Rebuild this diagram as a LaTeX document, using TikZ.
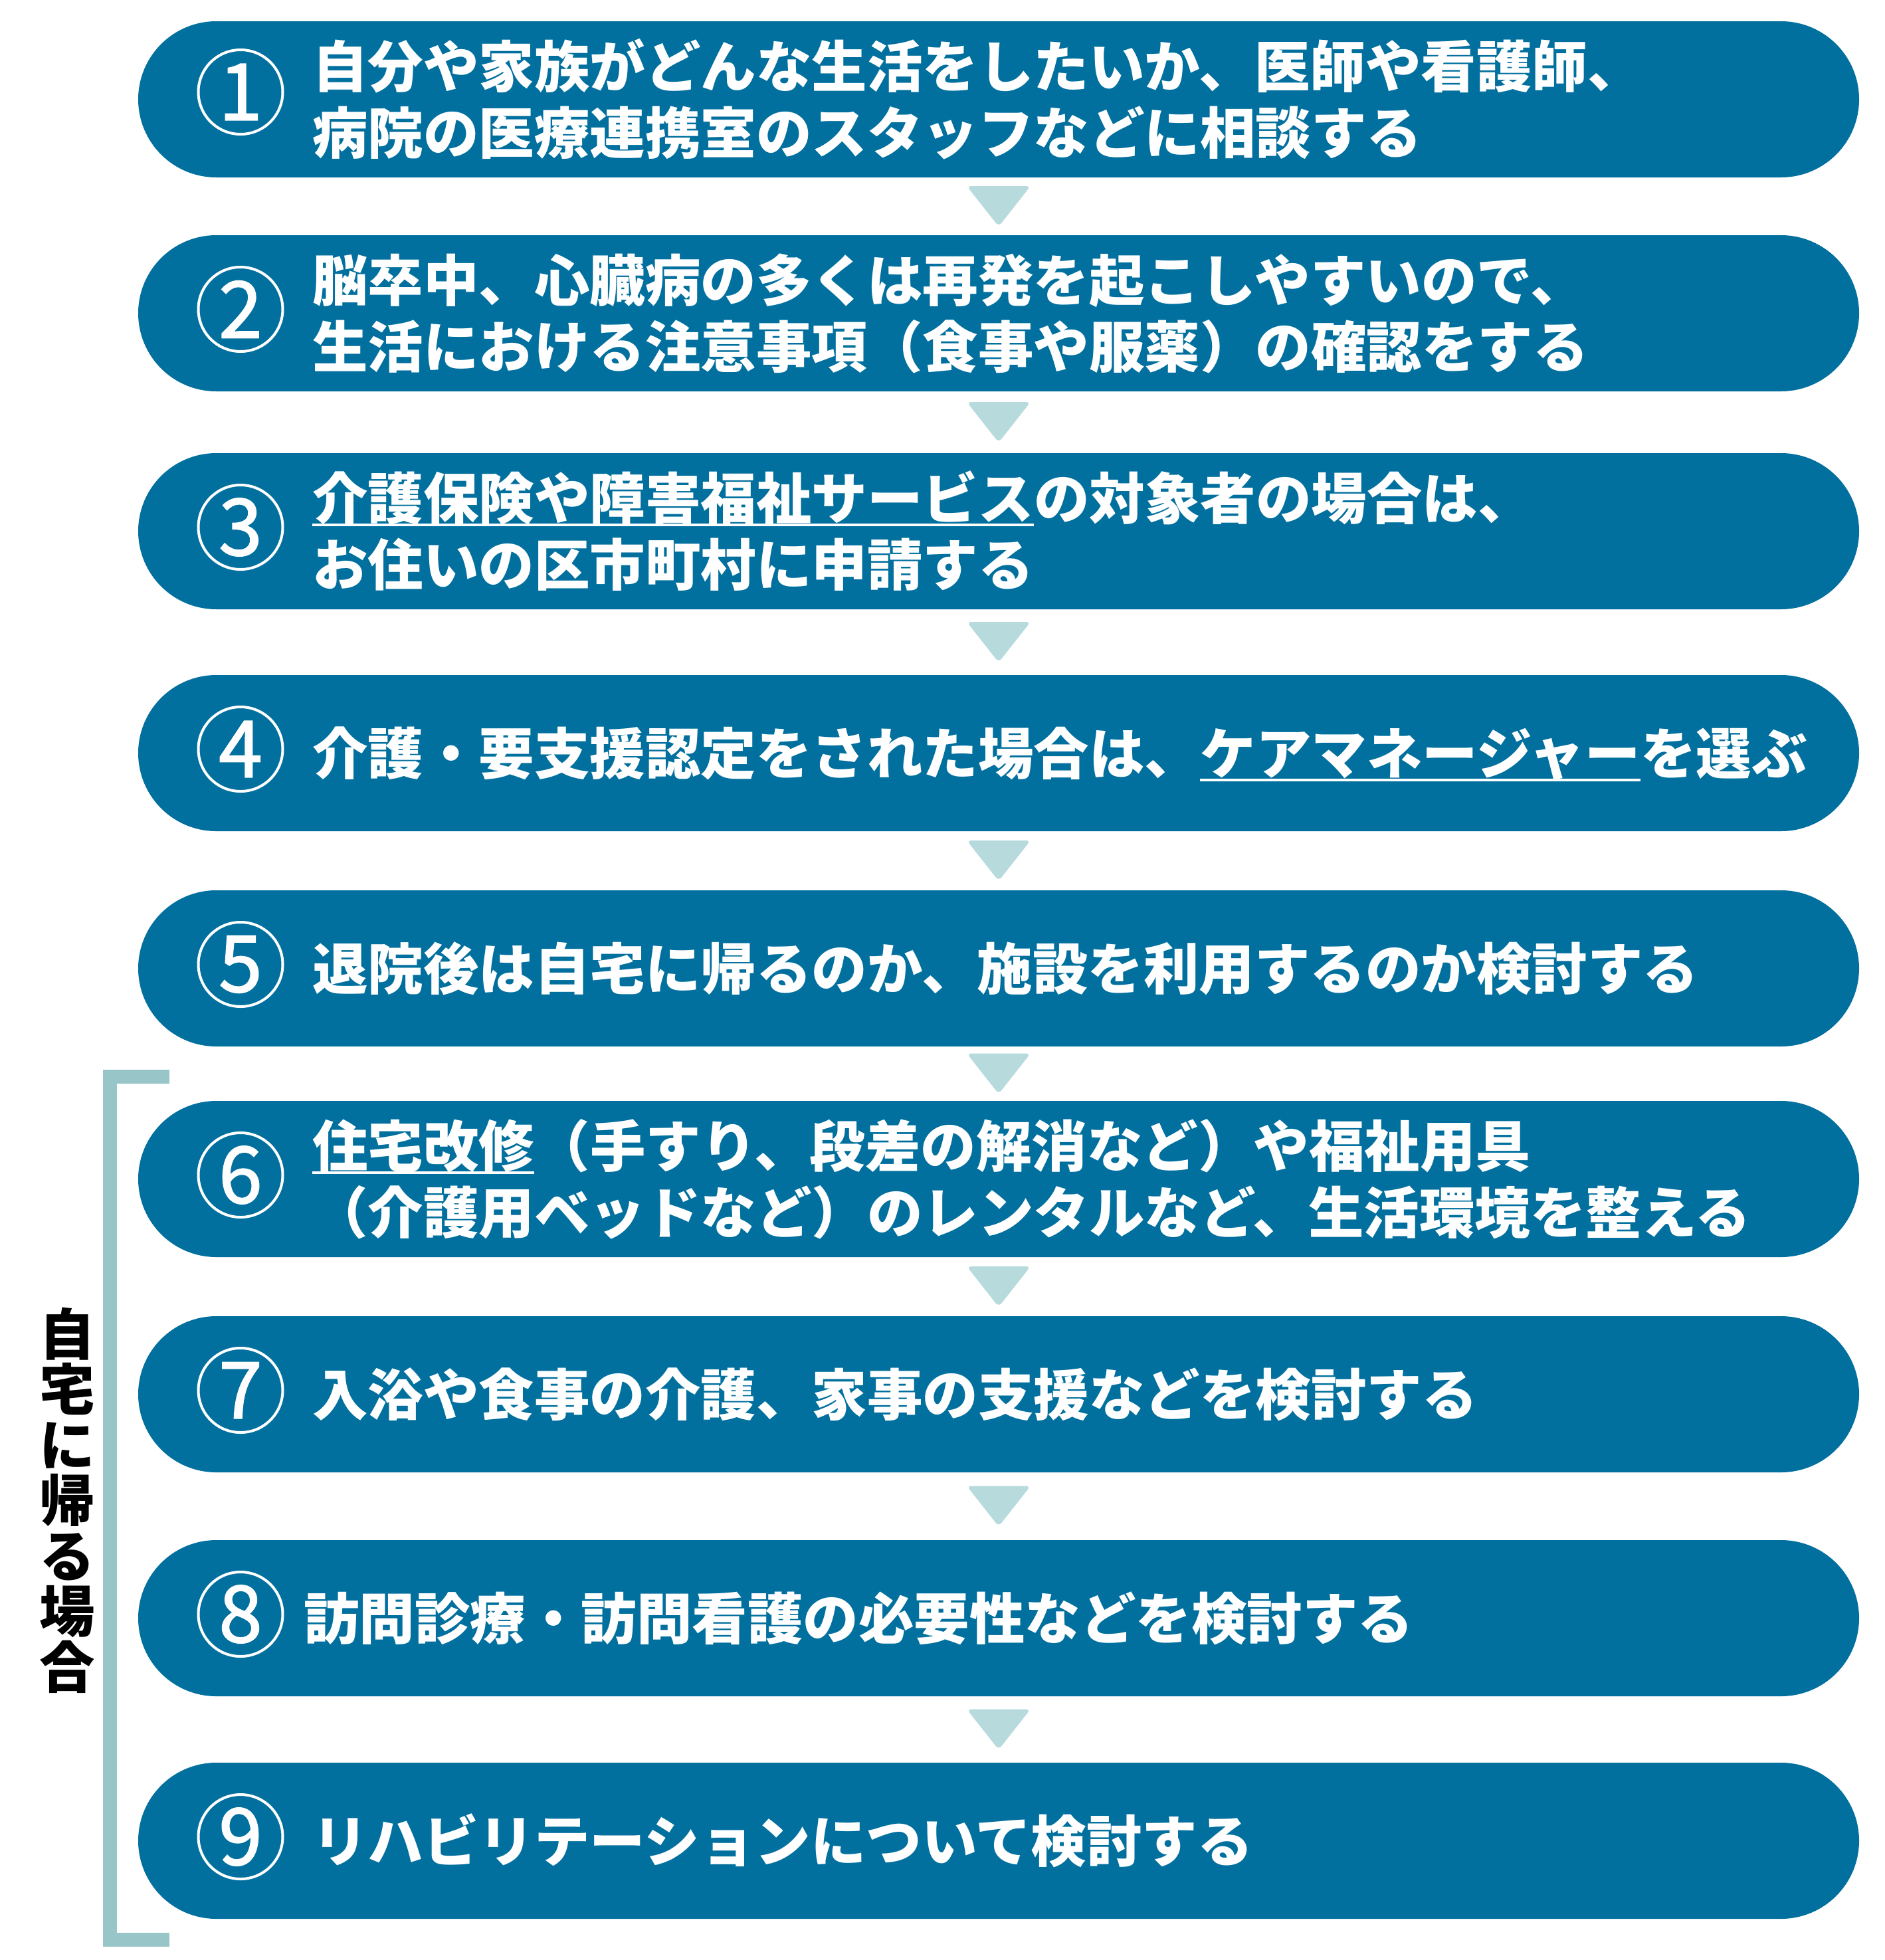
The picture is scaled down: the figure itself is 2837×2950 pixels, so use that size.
\documentclass[tikz,border=0pt]{standalone}
\usepackage{fontspec}
\usetikzlibrary{shapes.misc,calc}
\newfontfamily\jp{Noto Sans CJK JP}
\newfontfamily\jpnum{Noto Sans CJK JP}[FakeBold=1.6]
\definecolor{pillblue}{RGB}{2,112,158}
\definecolor{tricol}{RGB}{183,218,220}
\definecolor{brkcol}{RGB}{151,197,200}
\tikzset{
  pill/.style={shape=rounded rectangle, fill=pillblue, minimum width=2590pt, minimum height=235pt, inner sep=0pt},
  num/.style={circle, draw=white, line width=4pt, minimum size=127pt, inner sep=0pt, text=white, font=\jpnum\fontsize{118}{118}\selectfont},
  txt/.style={anchor=base west, inner sep=0pt, text=white, font=\jp\bfseries\fontsize{83.5}{83.5}\selectfont},
  ulin/.style={draw=white, line width=4pt},
  tri/.style={fill=tricol, rounded corners=7pt},
  brk/.style={draw=brkcol, line width=21pt},
  vlabel/.style={align=center, inner sep=0pt, text=black, font=\jp\bfseries\fontsize{83.5}{83.5}\selectfont}
}
\begin{document}
\begin{tikzpicture}[x=1pt,y=-1pt]
\useasboundingbox (0,0) rectangle (2837,2950);
% pills
\node[pill] (p1) at (1503,149.5) {};
\node[pill] (p2) at (1503,471.5) {};
\node[pill] (p3) at (1503,799.5) {};
\node[pill] (p4) at (1503,1133.5) {};
\node[pill] (p5) at (1503,1457.5) {};
\node[pill] (p6) at (1503,1774.5) {};
\node[pill] (p7) at (1503,2098.5) {};
\node[pill] (p8) at (1503,2435.5) {};
\node[pill] (p9) at (1503,2770.5) {};
% arrows
\foreach \a/\b in {p1/p2,p2/p3,p3/p4,p4/p5,p5/p6,p6/p7,p7/p8,p8/p9}
  \fill[tri] ($(\a.south)!0.5!(\b.north)$) ++(-48,-30.5) -- ++(96,0) -- ++(-48,61) -- cycle;
% numbers
\node[num] (n1) at (362,138.5) {1};
\node[num] (n2) at (362,465.5) {2};
\node[num] (n3) at (362,793.5) {3};
\node[num] (n4) at (362,1127.5) {4};
\node[num] (n5) at (362,1451.5) {5};
\node[num] (n6) at (362,1768.5) {6};
\node[num] (n7) at (362,2092.5) {7};
\node[num] (n8) at (362,2429.5) {8};
\node[num] (n9) at (362,2764.5) {9};
% texts
\node[txt] (t1a) at (470,131) {自分や家族がどんな生活をしたいか、医師や看護師、};
\node[txt] (t1b) at (470,231) {病院の医療連携室のスタッフなどに相談する};
\node[txt] (t2a) at (470,453) {脳卒中、心臓病の多くは再発を起こしやすいので、};
\node[txt] (t2b) at (470,553) {生活における注意事項（食事や服薬）の確認をする};
\node[txt] (t3a) at (470,781) {介護保険や障害福祉サービス};
\node[txt] (t3c) at (t3a.base east) {の対象者の場合は、};
\node[txt] (t3b) at (470,881) {お住いの区市町村に申請する};
\node[txt] (t4a) at (470,1165) {介護・要支援認定をされた場合は、};
\node[txt] (t4b) at (t4a.base east) {ケアマネージャー};
\node[txt] (t4c) at (t4b.base east) {を選ぶ};
\node[txt] (t5) at (470,1489) {退院後は自宅に帰るのか、施設を利用するのか検討する};
\node[txt] (t6a) at (470,1756) {住宅改修};
\node[txt] (t6c) at (t6a.base east) {（手すり、段差の解消など）や福祉用具};
\node[txt] (t6b) at (470,1856) {（介護用ベッドなど）のレンタルなど、生活環境を整える};
\node[txt] (t7) at (470,2130) {入浴や食事の介護、家事の支援などを検討する};
\node[txt] (t8) at (457,2467) {訪問診療・訪問看護の必要性などを検討する};
\node[txt] (t9) at (470,2802) {リハビリテーションについて検討する};
% underlines
\draw[ulin] ([yshift=-9pt]t3a.base west) -- ([yshift=-9pt]t3a.base east);
\draw[ulin] ([yshift=-9pt]t4b.base west) -- ([yshift=-9pt]t4b.base east);
\draw[ulin] ([yshift=-9pt]t6a.base west) -- ([yshift=-9pt]t6a.base east);
% bracket
\coordinate (bt) at (255,1620);
\coordinate (bb) at (255,2919.5);
\draw[brk] (bt) -- (165.5,1620) -- (165.5,2919.5) -- (bb);
\node[vlabel] (lbl) at (101,2258) {自\\宅\\に\\帰\\る\\場\\合};
\end{tikzpicture}
\end{document}
